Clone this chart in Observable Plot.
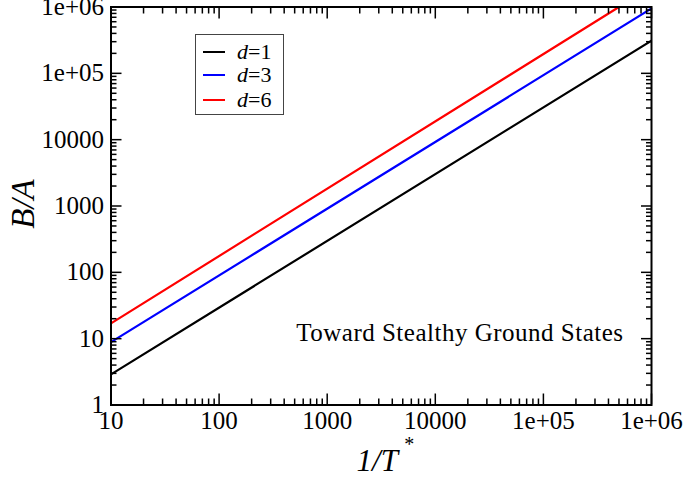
<!DOCTYPE html>
<html>
<head>
<meta charset="utf-8">
<script src="https://cdn.jsdelivr.net/npm/d3@7"></script>
<script src="https://cdn.jsdelivr.net/npm/@observablehq/plot@0.6"></script>
<style>
  body { margin: 0; background: #fff; }
  #wrap { position: relative; width: 687px; height: 480px; font-family: "Liberation Serif", serif; }
  #legend { position: absolute; left: 195px; top: 34px; width: 89px; height: 81px; border: 1px solid #444; background: #fff; box-sizing: border-box; }
  .row { position: absolute; left: 0; height: 24px; display: flex; align-items: center; font-size: 22px; }
  .sw { width: 22px; height: 2px; margin-left: 7px; margin-right: 12px; }
  .row i { font-style: italic; }
</style>
</head>
<body>
<div id="wrap"></div>
<script>
// data
const xEnds = [10, 1e6];
const d1Vals = [2.9, 3.1e5];
const d3Vals = [8.85, 9.5e5];
const d6X = [10, 5e5];
const d6Vals = [17, 1e6];
const seriesNames = ["d=1", "d=3", "d=6"];
const seriesColors = ["#000000", "#0000ff", "#ff0000"];
const xTicks = [10, 100, 1000, 10000, 1e5, 1e6];
const xTickLabels = ["10", "100", "1000", "10000", "1e+05", "1e+06"];
const yTicks = [1, 10, 100, 1000, 10000, 1e5, 1e6];
const yTickLabels = ["1", "10", "100", "1000", "10000", "1e+05", "1e+06"];
const annotation = "Toward Stealthy Ground States";

const rows = [
  ...xEnds.map((x, i) => ({x, y: d1Vals[i], s: seriesNames[0]})),
  ...xEnds.map((x, i) => ({x, y: d3Vals[i], s: seriesNames[1]})),
  ...d6X.map((x, i) => ({x, y: d6Vals[i], s: seriesNames[2]}))
];

const minor = (majors) => majors.slice(0, -1).flatMap(m => [2,3,4,5,6,7,8,9].map(k => m * k));
const xMinor = minor(xTicks);
const yMinor = minor(yTicks);
const xLab = new Map(xTicks.map((t, i) => [t, xTickLabels[i]]));
const yLab = new Map(yTicks.map((t, i) => [t, yTickLabels[i]]));

const tk = { text: null, strokeWidth: 1.5, label: null };

const chart = Plot.plot({
  width: 687,
  height: 480,
  marginLeft: 110.5,
  marginRight: 36,
  marginTop: 6.5,
  marginBottom: 75.5,
  style: { fontFamily: "Liberation Serif, serif", fontSize: "25px", color: "#000", background: "#fff" },
  x: { type: "log", domain: [10, 1e6] },
  y: { type: "log", domain: [1, 1e6] },
  color: { domain: seriesNames, range: seriesColors },
  marks: [
    Plot.line(rows, { x: "x", y: "y", z: "s", stroke: "s", strokeWidth: 2.2, clip: true }),
    // ticks inward on all four sides
    Plot.axisX({ ticks: xTicks, anchor: "bottom", tickSize: -11, ...tk }),
    Plot.axisX({ ticks: xMinor, anchor: "bottom", tickSize: -6, ...tk }),
    Plot.axisX({ ticks: xTicks, anchor: "top", tickSize: -11, ...tk }),
    Plot.axisX({ ticks: xMinor, anchor: "top", tickSize: -6, ...tk }),
    Plot.axisY({ ticks: yTicks, anchor: "left", tickSize: -11, ...tk }),
    Plot.axisY({ ticks: yMinor, anchor: "left", tickSize: -6, ...tk }),
    Plot.axisY({ ticks: yTicks, anchor: "right", tickSize: -11, ...tk }),
    Plot.axisY({ ticks: yMinor, anchor: "right", tickSize: -6, ...tk }),
    // tick labels
    Plot.axisX({ ticks: xTicks, anchor: "bottom", tickSize: 0, tickPadding: 6, tickFormat: d => xLab.get(d), label: null, fill: "#000" }),
    Plot.axisY({ ticks: yTicks, anchor: "left", tickSize: 0, tickPadding: 7, tickFormat: d => yLab.get(d), label: null, fill: "#000" }),
    Plot.frame({ stroke: "#000", strokeWidth: 2 }),
    // axis titles
    Plot.text(["B/A"], { text: d => d, frameAnchor: "left", textAnchor: "middle", lineAnchor: "middle", dx: -88, dy: -2, rotate: -90, fontSize: 33, fontStyle: "italic", fill: "#000" }),
    Plot.text(["1/T"], { text: d => d, frameAnchor: "bottom", textAnchor: "middle", lineAnchor: "middle", dx: -4, dy: 56, fontSize: 31, fontStyle: "italic", fill: "#000" }),
    Plot.text(["*"], { text: d => d, frameAnchor: "bottom", textAnchor: "middle", lineAnchor: "middle", dx: 28, dy: 40, fontSize: 20, fill: "#000" }),
    // annotation
    Plot.text([annotation], { text: d => d, frameAnchor: "bottom-right", textAnchor: "end", lineAnchor: "middle", dx: -28, dy: -72, fontSize: 25, fill: "#000" })
  ]
});

chart.querySelectorAll("text").forEach(t => {
  if (t.textContent === annotation) t.style.letterSpacing = "0.5px";
});

const wrap = document.getElementById("wrap");
wrap.appendChild(chart);

const legend = document.createElement("div");
legend.id = "legend";
const rowTops = [5, 28, 53];
seriesNames.forEach((name, i) => {
  const r = document.createElement("div");
  r.className = "row";
  r.style.top = rowTops[i] + "px";
  const sw = document.createElement("span");
  sw.className = "sw";
  sw.style.background = seriesColors[i];
  r.appendChild(sw);
  const [lhs, rhs] = name.split("=");
  const it = document.createElement("i");
  it.textContent = lhs;
  r.appendChild(it);
  r.appendChild(document.createTextNode("=" + rhs));
  legend.appendChild(r);
});
wrap.appendChild(legend);
</script>
</body>
</html>
